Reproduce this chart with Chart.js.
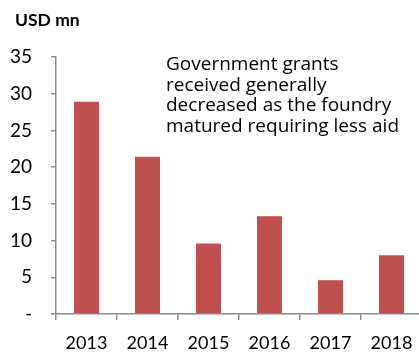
<!DOCTYPE html>
<html>
<head>
<meta charset="utf-8">
<script src="https://cdn.jsdelivr.net/npm/chart.js@4.4.1/dist/chart.umd.min.js"></script>
<style>
  html, body { margin: 0; padding: 0; background: #fff; overflow: hidden; }
  #wrap { width: 419px; height: 352px; overflow: hidden; }
</style>
</head>
<body>
<div id="wrap"><canvas id="chart" width="428" height="352"></canvas></div>
<script>
// Data
const years = ["2013", "2014", "2015", "2016", "2017", "2018"];
const grants = [28.9, 21.4, 9.6, 13.3, 4.6, 8.0];
const yTicks = [0, 5, 10, 15, 20, 25, 30, 35];
const unitLabel = "USD mn";
const noteLines = [
    "Government grants",
    "received generally",
    "decreased as the foundry",
    "matured requiring less aid"
];

const FONT = "Lato, 'Open Sans', sans-serif";
const NOTE_FONT = "'Open Sans', Lato, sans-serif";
const AXIS_GREY = "#8c8c8c";

// draws the unit label and the note text
const textPlugin = {
    id: "texts",
    afterDraw(chart) {
        const ctx = chart.ctx;
        ctx.save();
        ctx.fillStyle = "#000";
        ctx.textBaseline = "middle";
        ctx.textAlign = "left";
        ctx.font = "bold 17.5px " + FONT;
        ctx.fillText(unitLabel, 15, 20);
        ctx.font = "19px " + NOTE_FONT;
        noteLines.forEach((line, i) => {
            ctx.fillText(line, 166, 65 + i * 20.5);
        });
        ctx.restore();
    }
};

new Chart(document.getElementById("chart"), {
    type: "bar",
    data: {
        labels: years,
        datasets: [{
            data: grants,
            backgroundColor: "#c0504d",
            borderWidth: 0,
            categoryPercentage: 1,
            barPercentage: 0.41
        }]
    },
    options: {
        responsive: false,
        animation: false,
        layout: { padding: { top: 57, right: 6, left: 0, bottom: 0 } },
        plugins: {
            legend: { display: false },
            tooltip: { enabled: false }
        },
        scales: {
            x: {
                grid: {
                    offset: true,
                    drawOnChartArea: false,
                    color: AXIS_GREY,
                    tickLength: 6,
                    lineWidth: 1.5
                },
                border: { color: AXIS_GREY, width: 1.5 },
                ticks: {
                    color: "#000",
                    font: { family: FONT, size: 18 },
                    padding: 12,
                    maxRotation: 0
                },
                afterFit(scale) { scale.height = 38; }
            },
            y: {
                min: 0,
                max: 35,
                afterBuildTicks(scale) {
                    scale.ticks = yTicks.map(v => ({ value: v }));
                },
                grid: {
                    drawOnChartArea: false,
                    color: AXIS_GREY,
                    tickLength: 5,
                    lineWidth: 1.5
                },
                border: { color: AXIS_GREY, width: 1.5 },
                ticks: {
                    color: "#000",
                    font: { family: FONT, size: 19 },
                    padding: 19,
                    callback: v => v === 0 ? "-" : v
                },
                afterFit(scale) { scale.width = 56; }
            }
        }
    },
    plugins: [textPlugin]
});
</script>
</body>
</html>
